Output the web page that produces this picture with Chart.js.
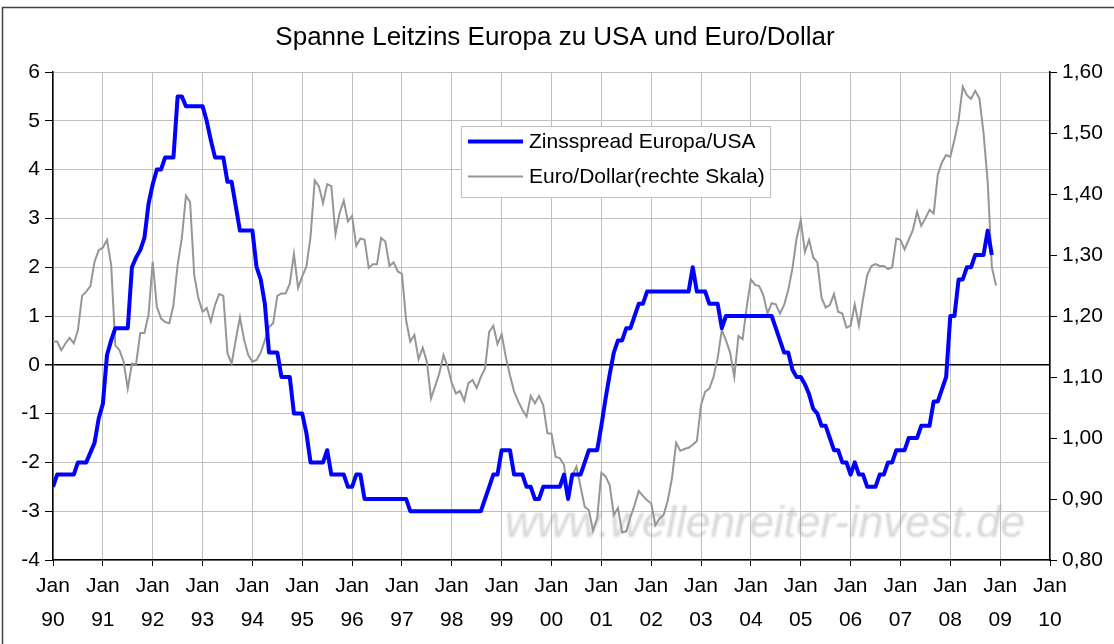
<!DOCTYPE html>
<html>
<head>
<meta charset="utf-8">
<script src="https://cdn.jsdelivr.net/npm/chart.js@4"></script>
<style>
  body { margin: 0; background: #fff; }
  canvas { display: block; }
</style>
</head>
<body>
<canvas id="chart" width="1114" height="644"></canvas>
<script>
const FONT = "'Liberation Sans', Arial, sans-serif";
const startYear = 1990;

// Zinsspread Europa/USA, monthly from Jan 1990
const spread = [
  -2.5, -2.25, -2.25, -2.25, -2.25, -2.25, -2, -2, -2, -1.8, -1.6, -1.1,
  -0.8, 0.2, 0.5, 0.75, 0.75, 0.75, 0.75, 2, 2.2, 2.35, 2.6, 3.3,
  3.7, 4, 4, 4.25, 4.25, 4.25, 5.5, 5.5, 5.3, 5.3, 5.3, 5.3,
  5.3, 5, 4.6, 4.25, 4.25, 4.25, 3.75, 3.75, 3.25, 2.75, 2.75, 2.75,
  2.75, 2, 1.75, 1.25, 0.25, 0.25, 0.25, -0.25, -0.25, -0.25, -1, -1,
  -1, -1.4, -2, -2, -2, -2, -1.75, -2.25, -2.25, -2.25, -2.25, -2.5,
  -2.5, -2.25, -2.25, -2.75, -2.75, -2.75, -2.75, -2.75, -2.75, -2.75, -2.75, -2.75,
  -2.75, -2.75, -3, -3, -3, -3, -3, -3, -3, -3, -3, -3,
  -3, -3, -3, -3, -3, -3, -3, -3, -2.75, -2.5, -2.25, -2.25,
  -1.75, -1.75, -1.75, -2.25, -2.25, -2.25, -2.5, -2.5, -2.75, -2.75, -2.5, -2.5,
  -2.5, -2.5, -2.5, -2.25, -2.75, -2.25, -2.25, -2.25, -2, -1.75, -1.75, -1.75,
  -1.25, -0.7, -0.2, 0.25, 0.5, 0.5, 0.75, 0.75, 1, 1.25, 1.25, 1.5,
  1.5, 1.5, 1.5, 1.5, 1.5, 1.5, 1.5, 1.5, 1.5, 1.5, 2, 1.5,
  1.5, 1.5, 1.25, 1.25, 1.25, 0.75, 1, 1, 1, 1, 1, 1,
  1, 1, 1, 1, 1, 1, 0.75, 0.5, 0.25, 0.25, -0.1, -0.25,
  -0.25, -0.4, -0.6, -0.9, -1, -1.25, -1.25, -1.5, -1.75, -1.75, -2, -2,
  -2.25, -2, -2.25, -2.25, -2.5, -2.5, -2.5, -2.25, -2.25, -2, -2, -1.75,
  -1.75, -1.75, -1.5, -1.5, -1.5, -1.25, -1.25, -1.25, -0.75, -0.75, -0.5, -0.25,
  1, 1, 1.75, 1.75, 2, 2, 2.25, 2.25, 2.25, 2.75, 2.25
];

// Euro/Dollar (right scale), monthly from Jan 1990
const euroDollar = [
  1.158, 1.158, 1.144, 1.155, 1.164, 1.155, 1.177, 1.233, 1.240, 1.249, 1.289, 1.308,
  1.312, 1.325, 1.284, 1.152, 1.144, 1.125, 1.081, 1.122, 1.121, 1.172, 1.172, 1.202,
  1.289, 1.215, 1.196, 1.190, 1.188, 1.218, 1.284, 1.327, 1.397, 1.387, 1.267, 1.229,
  1.207, 1.213, 1.191, 1.218, 1.236, 1.233, 1.139, 1.122, 1.161, 1.198, 1.161, 1.136,
  1.125, 1.128, 1.140, 1.160, 1.182, 1.188, 1.233, 1.237, 1.237, 1.253, 1.302, 1.246,
  1.265, 1.281, 1.330, 1.422, 1.413, 1.385, 1.416, 1.413, 1.334, 1.369, 1.389, 1.355,
  1.364, 1.315, 1.327, 1.325, 1.279, 1.285, 1.285, 1.328, 1.322, 1.282, 1.288, 1.273,
  1.269, 1.193, 1.158, 1.169, 1.129, 1.148, 1.125, 1.065, 1.085, 1.106, 1.136, 1.117,
  1.090, 1.073, 1.077, 1.061, 1.090, 1.095, 1.082, 1.100, 1.114, 1.174, 1.184, 1.154,
  1.170, 1.133, 1.103, 1.076, 1.060, 1.046, 1.035, 1.069, 1.057, 1.069, 1.054, 1.008,
  1.007, 0.969, 0.967, 0.956, 0.909, 0.939, 0.953, 0.920, 0.887, 0.882, 0.848, 0.868,
  0.943, 0.937, 0.923, 0.874, 0.885, 0.845, 0.847, 0.870, 0.890, 0.913, 0.905, 0.898,
  0.893, 0.857, 0.868, 0.874, 0.898, 0.934, 0.992, 0.979, 0.982, 0.984, 0.989, 0.995,
  1.054, 1.076, 1.081, 1.100, 1.131, 1.177, 1.160, 1.140, 1.100, 1.167, 1.162, 1.215,
  1.260, 1.251, 1.249, 1.234, 1.204, 1.221, 1.219, 1.204, 1.218, 1.243, 1.278, 1.327,
  1.357, 1.305, 1.325, 1.296, 1.288, 1.230, 1.214, 1.218, 1.236, 1.207, 1.204, 1.181,
  1.184, 1.219, 1.184, 1.228, 1.267, 1.282, 1.285, 1.282, 1.282, 1.277, 1.280, 1.327,
  1.325, 1.309, 1.325, 1.341, 1.371, 1.348, 1.360, 1.374, 1.368, 1.432, 1.452, 1.464,
  1.461, 1.489, 1.521, 1.576, 1.562, 1.556, 1.569, 1.557, 1.50, 1.42, 1.28, 1.25
];

// month positions in years (category axis)
const months = euroDollar.map((_, i) => startYear + i / 12);

const titleText = 'Spanne Leitzins Europa zu USA und Euro/Dollar';
const watermark = 'www.wellenreiter-invest.de';

const decor = {
  id: 'decor',
  beforeDraw(chart) {
    const c = chart.ctx;
    c.save();
    c.fillStyle = '#fff';
    c.fillRect(0, 0, chart.width, chart.height);
    // outer frame
    c.strokeStyle = '#404040';
    c.lineWidth = 1.5;
    c.beginPath();
    c.moveTo(2.5, chart.height);
    c.lineTo(2.5, 7.5);
    c.lineTo(chart.width, 7.5);
    c.stroke();
    // title
    c.fillStyle = '#000';
    c.font = '26px ' + FONT;
    c.textAlign = 'center';
    c.textBaseline = 'middle';
    c.fillText(titleText, 555, 38);
    c.restore();
  },
  beforeDatasetsDraw(chart) {
    const c = chart.ctx;
    c.save();
    c.font = 'italic 44px ' + FONT;
    c.fillStyle = 'rgba(150,150,150,0.38)';
    c.filter = 'blur(1.2px)';
    c.textBaseline = 'alphabetic';
    c.fillText(watermark, 505, 537);
    c.restore();
  },
  afterDatasetsDraw(chart) {
    const c = chart.ctx;
    const ds = chart.data.datasets;
    c.save();
    c.fillStyle = '#fff';
    c.fillRect(461, 126, 309, 71);
    c.strokeStyle = '#c0c0c0';
    c.lineWidth = 1;
    c.strokeRect(461.5, 126.5, 309, 71);
    c.font = '21px ' + FONT;
    c.textBaseline = 'middle';
    c.textAlign = 'left';
    [141.5, 176.5].forEach((y, i) => {
      c.strokeStyle = ds[i].borderColor;
      c.lineWidth = ds[i].borderWidth;
      c.beginPath();
      c.moveTo(468, y);
      c.lineTo(523, y);
      c.stroke();
      c.fillStyle = '#000';
      c.fillText(ds[i].label, 529, y + 1);
    });
    c.restore();
  }
};

new Chart(document.getElementById('chart').getContext('2d'), {
  type: 'line',
  data: {
    labels: months,
    datasets: [
      { label: 'Zinsspread Europa/USA', data: spread, borderColor: '#0000ff', borderWidth: 4,
        pointRadius: 0, yAxisID: 'y', tension: 0, borderJoinStyle: 'round' },
      { label: 'Euro/Dollar(rechte Skala)', data: euroDollar, borderColor: '#969696', borderWidth: 2,
        pointRadius: 0, yAxisID: 'y1', tension: 0 }
    ]
  },
  options: {
    responsive: false,
    animation: false,
    layout: { padding: { top: 72, left: 0, right: 0, bottom: 0 } },
    plugins: { legend: { display: false }, title: { display: false }, tooltip: { enabled: false } },
    scales: {
      x: {
        type: 'linear', min: 1990, max: 2010,
        ticks: {
          stepSize: 1, autoSkip: false, maxRotation: 0, padding: 2.5, color: '#000',
          font: { family: FONT, size: 21, lineHeight: 1.65 },
          callback: v => ['Jan', String(v % 100).padStart(2, '0')]
        },
        grid: { color: '#c0c0c0', tickColor: '#000', tickLength: 6 },
        border: { color: '#000', width: 1.5 },
        afterFit: s => { s.height = 84; }
      },
      y: {
        position: 'left', min: -4, max: 6,
        ticks: { stepSize: 1, padding: 5, color: '#000', font: { family: FONT, size: 21 },
          callback: v => String(v) },
        grid: {
          color: c => c.tick.value === 0 ? '#000' : '#c0c0c0',
          lineWidth: c => c.tick.value === 0 ? 1.5 : 1,
          tickColor: '#000', tickLength: 8
        },
        border: { color: '#000', width: 1.5 },
        afterFit: s => { s.width = 53; }
      },
      y1: {
        position: 'right', min: 0.8, max: 1.6,
        ticks: { stepSize: 0.1, padding: 5, color: '#000', font: { family: FONT, size: 21 },
          callback: v => v.toFixed(2).replace('.', ',') },
        grid: { drawOnChartArea: false, tickColor: '#000', tickLength: 7 },
        border: { color: '#000', width: 1.5 },
        afterFit: s => { s.width = 64; }
      }
    }
  },
  plugins: [decor]
});
</script>
</body>
</html>
